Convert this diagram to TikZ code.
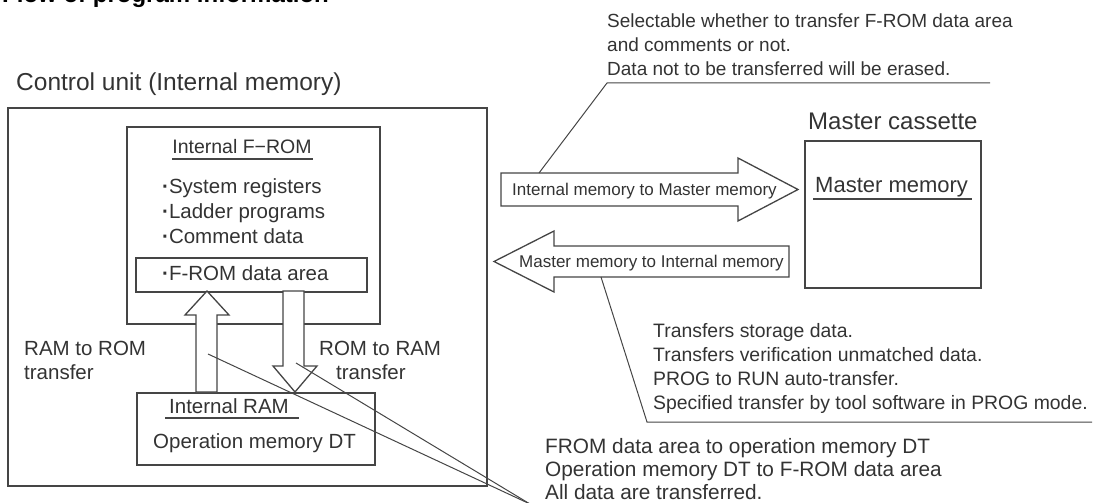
\documentclass[tikz,border=0pt]{standalone}
\usepackage{fontspec}
\setmainfont{Liberation Sans}
\definecolor{linec}{gray}{0.27}
\definecolor{txtc}{gray}{0.2}
\begin{document}
\begin{tikzpicture}[x=1pt,y=-1pt,
  box/.style={draw=linec, line width=1.5pt, inner sep=0pt, anchor=north west},
  barrow/.style={draw=linec, line width=1.3pt, fill=white, line join=miter},
  leader/.style={draw=linec, line width=1pt},
  uline/.style={draw=linec, line width=1.2pt},
  t/.style={anchor=base west, inner sep=0pt, text=txtc, font=\fontsize{20.5}{24}\selectfont},
  tsm/.style={t, font=\fontsize{17}{20}\selectfont},
  tnote/.style={t, font=\fontsize{19}{23}\selectfont},
  tnotem/.style={t, font=\fontsize{19.4}{24}\selectfont},
  tnoteb/.style={t, font=\fontsize{20.8}{24}\selectfont},
  tbig/.style={t, font=\fontsize{24}{28}\selectfont},
  ttitle/.style={t, font=\fontsize{24}{28}\selectfont\bfseries, text=black}
]
\useasboundingbox (0,0) rectangle (1098,503);
\clip (0,0) rectangle (1098,503);

% title (cut off at top, as in the reference)
\node[ttitle] (title) at (2,3) {Flow of program information};

% boxes
\node[box, minimum width=479pt, minimum height=378pt] (outer) at (7,107) {};
\node[box, minimum width=253pt, minimum height=197pt] (from) at (126,126) {};
\node[box, minimum width=231pt, minimum height=34pt] (area) at (135,257) {};
\node[box, minimum width=238pt, minimum height=72pt] (ram) at (136,392) {};
\node[box, minimum width=176pt, minimum height=147pt] (master) at (804,140) {};

% block arrows inside control unit
\draw[barrow] (196,392) -- (196,315) -- (185,315) -- (207,291) -- (229,315) -- (217,315) -- (217,392) -- cycle;
\draw[barrow] (283,291) -- (283,366) -- (273,366) -- (295,392) -- (317,366) -- (304,366) -- (304,291) -- cycle;

% block arrows between units
\draw[barrow] (501,173) -- (738,173) -- (738,158) -- (798,189.5) -- (738,221) -- (738,206) -- (501,206) -- cycle;
\draw[barrow] (789,246) -- (554,246) -- (554,231) -- (494,261.5) -- (554,292) -- (554,277) -- (789,277) -- cycle;

% leader line coordinates
\coordinate (topa) at (539,173);
\coordinate (topb) at (607,83);
\coordinate (topc) at (990,83);
\coordinate (mida) at (601,277);
\coordinate (midb) at (647,422);
\coordinate (midc) at (1092,422);
\coordinate (lowa) at (208,354);
\coordinate (lowb) at (296,363);
\coordinate (lowc) at (530,504);

\draw[leader] (topa) -- (topb) -- (topc);
\draw[leader] (mida) -- (midb) -- (midc);
\draw[leader] (lowa) -- (lowc);
\draw[leader] (lowb) -- (lowc);

% texts
\node[tbig, font=\fontsize{24.5}{28}\selectfont] (cu) at (16,90) {Control unit (Internal memory)};
\node[tbig] (mc) at (808,129) {Master cassette};

\node[t, anchor=base, font=\fontsize{19.5}{24}\selectfont] (fromt) at (242,153) {Internal F−ROM};
\draw[uline] (172,159) -- (313,159);
\node[t] (b1) at (162,193) {{\bfseries ·}System registers};
\node[t] (b2) at (162,218) {{\bfseries ·}Ladder programs};
\node[t] (b3) at (162,243) {{\bfseries ·}Comment data};
\node[t] (b4) at (162,280) {{\bfseries ·}F-ROM data area};

\node[t] (r2r1) at (24,355) {RAM to ROM};
\node[t] (r2r2) at (24,379) {transfer};
\node[t] (o2r1) at (319,355) {ROM to RAM};
\node[t] (o2r2) at (336,379) {transfer};

\node[t] (ramt) at (169,413) {Internal RAM};
\draw[uline] (165,418) -- (299,418);
\node[t] (opm) at (153,448) {Operation memory DT};

\node[t, font=\fontsize{22}{26}\selectfont] (mm) at (815,192) {Master memory};
\draw[uline] (813,199) -- (972,199);

\node[tsm] (a1) at (512,195) {Internal memory to Master memory};
\node[tsm] (a2) at (519,267) {Master memory to Internal memory};

\node[tnote] (n1) at (607,28) {Selectable whether to transfer F-ROM data area};
\node[tnote] (n2) at (607,51.5) {and comments or not.};
\node[tnote] (n3) at (607,75) {Data not to be transferred will be erased.};

\node[tnotem] (m1) at (653,337) {Transfers storage data.};
\node[tnotem] (m2) at (653,361) {Transfers verification unmatched data.};
\node[tnotem] (m3) at (653,385) {PROG to RUN auto-transfer.};
\node[tnotem] (m4) at (653,409) {Specified transfer by tool software in PROG mode.};

\node[tnoteb] (f1) at (545,453) {FROM data area to operation memory DT};
\node[tnoteb] (f2) at (545,476) {Operation memory DT to F-ROM data area};
\node[tnoteb] (f3) at (545,499) {All data are transferred.};
\end{tikzpicture}
\end{document}
